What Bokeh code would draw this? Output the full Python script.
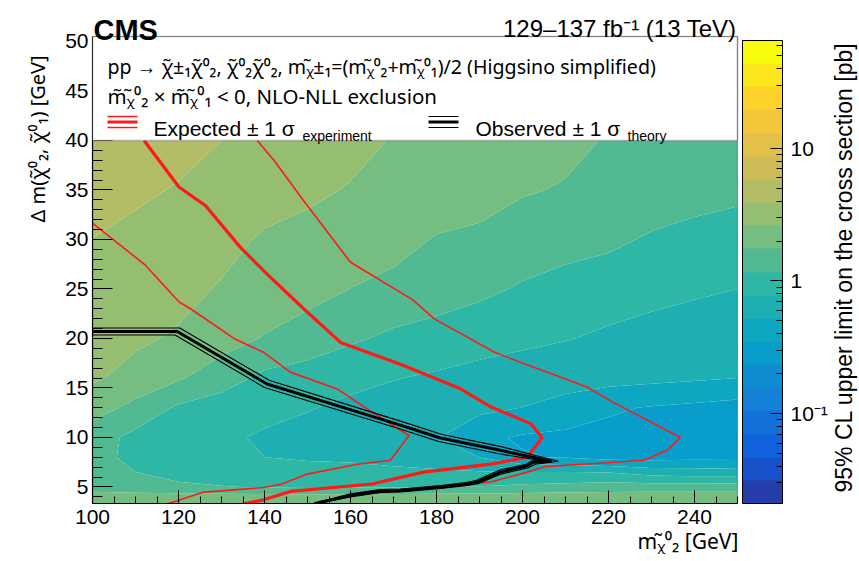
import numpy as np
from bokeh.plotting import figure
from bokeh.models import (Range1d, LogColorMapper, ColorBar, LogTicker, CustomJSTickFormatter,
                          SingleIntervalTicker, BoxAnnotation, Label, Arrow, Title)
from bokeh.embed import file_html
from bokeh.resources import INLINE

# ---------------- data ----------------
mass_x = [100, 110, 120, 130, 140, 150, 160, 170, 180, 190, 200, 210, 220, 230, 240, 250]
dm_y = [3, 4, 5, 6.5, 8, 10, 13, 16, 20, 25, 30, 35, 40]
# 95% CL upper limit on the cross section [pb], one row per dm_y value
limit_pb = [
    [2.54, 2.50, 2.45, 2.41, 2.37, 2.37, 2.37, 2.39, 2.41, 2.45, 2.50, 2.50, 2.54, 2.54, 2.54, 2.54],
    [2.17, 2.14, 2.11, 2.09, 2.06, 2.05, 2.05, 2.06, 2.09, 2.11, 2.14, 2.14, 2.15, 2.17, 2.17, 2.17],
    [1.43, 1.32, 1.27, 1.19, 1.14, 1.10, 1.12, 1.14, 1.17, 1.19, 1.27, 1.34, 1.41, 1.43, 1.43, 1.43],
    [1.37, 1.17, 1.00, 0.957, 0.917, 0.884, 0.867, 0.847, 0.826, 0.801, 0.79, 0.785, 0.77, 0.650, 0.624, 0.614],
    [1.43, 1.00, 0.917, 0.847, 0.782, 0.751, 0.739, 0.693, 0.639, 0.52, 0.36, 0.34, 0.30, 0.30, 0.31, 0.31],
    [1.43, 1.04, 0.917, 0.847, 0.739, 0.682, 0.639, 0.590, 0.536, 0.38, 0.335, 0.32, 0.31, 0.305, 0.30, 0.30],
    [2.05, 1.57, 1.10, 0.957, 0.884, 0.801, 0.722, 0.665, 0.624, 0.580, 0.52, 0.45, 0.37, 0.34, 0.32, 0.30],
    [2.76, 2.26, 1.82, 1.41, 1.06, 0.957, 0.867, 0.795, 0.739, 0.682, 0.650, 0.624, 0.605, 0.580, 0.553, 0.523],
    [3.19, 2.80, 2.47, 2.05, 1.70, 1.49, 1.24, 1.08, 1.00, 0.917, 0.847, 0.795, 0.739, 0.693, 0.665, 0.639],
    [3.60, 3.32, 3.00, 2.50, 2.24, 1.97, 1.74, 1.57, 1.41, 1.27, 1.12, 1.00, 0.917, 0.867, 0.818, 0.782],
    [3.87, 3.60, 3.32, 3.07, 2.45, 2.30, 2.15, 2.00, 1.70, 1.63, 1.46, 1.37, 1.28, 1.11, 1.00, 0.917],
    [4.97, 4.12, 3.81, 3.51, 3.24, 2.83, 2.54, 2.35, 2.17, 2.00, 1.80, 1.70, 1.61, 1.51, 1.41, 1.32],
    [5.50, 5.17, 4.40, 3.90, 3.54, 3.24, 2.95, 2.55, 2.39, 2.18, 2.04, 1.91, 1.70, 1.68, 1.59, 1.50],
]

# expected limit (thick red)
exp_x = [112.0, 120.1, 126.3, 134.4, 140.6, 149.1, 157.7, 171.6, 185.2, 192.6, 201.9, 204.6,
         201.1, 192.6, 177.0, 165.0, 146.0, 139.8, 135.2]
exp_y = [40.0, 35.3, 33.4, 29.2, 26.5, 23.0, 19.6, 17.4, 15.0, 13.1, 11.4, 10.0,
         8.0, 7.3, 6.5, 5.3, 4.55, 3.7, 3.3]
# expected -1 sigma_experiment (thin red, inner)
exp_m1_x = [99.0, 112.3, 120.1, 122.8, 132.9, 139.8, 146.0, 156.9, 163.1, 173.6, 169.3, 161.6,
            149.9, 144.1, 139.8, 125.5, 120.1, 117.4]
exp_m1_y = [32.0, 27.4, 23.7, 23.0, 20.0, 18.6, 16.6, 14.9, 13.1, 10.2, 7.7, 7.3,
            6.3, 5.3, 4.95, 4.45, 3.65, 3.3]
# expected +1 sigma_experiment (thin red, outer)
exp_p1_x = [138.3, 142.2, 149.1, 160.0, 174.5, 179.4, 193.5, 199.5, 215.0, 220.5, 236.7, 233.6,
            228.2, 219.7, 205.0, 201.1, 192.6, 187.1, 181.0, 171.6, 160.0, 151.5]
exp_p1_y = [40.0, 38.0, 33.9, 27.7, 23.9, 22.0, 18.6, 17.6, 15.1, 13.7, 10.0, 8.7,
            7.7, 7.45, 7.05, 6.5, 5.5, 5.3, 5.0, 4.65, 4.15, 3.3]
# observed limit (thick black)
obs_x = [99.0, 119.7, 140.6, 171.6, 180.9, 194.9, 206.8, 202.6, 201.1, 194.9, 189.5, 187.1,
         181.0, 171.6, 167.0, 160.0, 151.5]
obs_y = [20.7, 20.7, 15.4, 11.25, 9.95, 8.7, 7.6, 7.5, 7.15, 6.5, 5.5, 5.3,
         5.0, 4.65, 4.6, 4.15, 3.3]
# observed +1 sigma_theory (thin black)
obs_p1_x = [99.0, 120.3, 141.2, 172.0, 181.3, 195.3, 208.3, 203.0, 201.3, 195.0, 189.8, 187.3,
            181.0, 171.6, 167.0, 160.0, 151.0]
obs_p1_y = [21.05, 21.05, 15.75, 11.6, 10.3, 9.05, 7.6, 7.3, 6.95, 6.3, 5.35, 5.15,
            4.85, 4.5, 4.45, 4.0, 3.2]
# observed -1 sigma_theory (thin black)
obs_m1_x = [99.0, 119.2, 140.0, 171.2, 180.5, 194.5, 205.3, 202.3, 200.8, 194.6, 189.2, 186.9,
            181.0, 171.6, 167.0, 160.0, 152.0]
obs_m1_y = [20.35, 20.35, 15.05, 10.9, 9.6, 8.35, 7.6, 7.65, 7.3, 6.7, 5.65, 5.45,
            5.15, 4.8, 4.75, 4.3, 3.4]

x_tick_step = 20
y_tick_step = 5
z_low, z_high = 0.021, 65.0

# ---------------- style / layout ----------------
N_BANDS = 20
BIRD_T = [0.0, 0.125, 0.25, 0.375, 0.5, 0.625, 0.75, 0.875, 1.0]
BIRD_R = [0.2082, 0.0592, 0.0780, 0.0232, 0.1802, 0.5301, 0.8186, 0.9956, 0.9764]
BIRD_G = [0.1664, 0.3599, 0.5041, 0.6419, 0.7178, 0.7492, 0.7328, 0.7862, 0.9832]
BIRD_B = [0.5293, 0.8684, 0.8385, 0.7914, 0.6425, 0.4662, 0.3499, 0.1968, 0.0539]


def bird(t):
    r = np.interp(t, BIRD_T, BIRD_R)
    g = np.interp(t, BIRD_T, BIRD_G)
    b = np.interp(t, BIRD_T, BIRD_B)
    return "#%02x%02x%02x" % (int(round(r * 255)), int(round(g * 255)), int(round(b * 255)))


palette = [bird((i + 0.99) / N_BANDS) for i in range(N_BANDS)]

# plot box (x 100-250, dm 3.33-50.5) sits at pixels 92..737 x 36..503 of the 859x561 canvas;
# the Bokeh frame is extended to the top and right canvas edges so texts there are not clipped.
W, H = 859, 561
X0, X1 = 100.0, 250.0
Y0, Y1 = 3.33, 50.5
FL, FT, FW, FH = 92, 36, 645, 467
SX = (X1 - X0) / FW
SY = (Y1 - Y0) / FH


def px2x(px):
    return X0 + (px - FL) * SX


def py2y(py):
    return Y1 - (py - FT) * SY


FONT = "Liberation Sans"
GFONT = "Noto Sans"

p = figure(frame_width=W - FL, frame_height=FT + FH,
           x_range=Range1d(X0, px2x(W)), y_range=Range1d(Y0, py2y(0)),
           output_backend="svg", toolbar_location=None, title=None,
           min_border_left=FL, min_border_right=0, min_border_top=0,
           min_border_bottom=H - FT - FH, background_fill_color="white",
           border_fill_color="white")
p.grid.visible = False
p.outline_line_color = None

logz = np.log10(np.array(limit_pb))
levels = list(np.linspace(np.log10(z_low), np.log10(z_high), N_BANDS + 1))
p.contour(x=mass_x, y=dm_y, z=logz, levels=levels, fill_color=palette, line_color=None)

RED = "#ff1a1a"
p.line(exp_m1_x, exp_m1_y, line_color=RED, line_width=1.6)
p.line(exp_p1_x, exp_p1_y, line_color=RED, line_width=1.6)
p.line(exp_x, exp_y, line_color=RED, line_width=3.2)
p.line(obs_p1_x, obs_p1_y, line_color="black", line_width=1.1)
p.line(obs_m1_x, obs_m1_y, line_color="black", line_width=1.1)
p.line(obs_x, obs_y, line_color="black", line_width=3.0)

# axes
xa = p.xaxis[0]
xa.ticker = SingleIntervalTicker(interval=x_tick_step, num_minor_ticks=4)
xa.bounds = (X0, X1)
ya = p.yaxis[0]
ya.ticker = SingleIntervalTicker(interval=y_tick_step, num_minor_ticks=5)
ya.bounds = (Y0, Y1)
for ax in (xa, ya):
    ax.axis_line_color = "black"
    ax.axis_line_width = 1.2
    ax.major_tick_line_color = "black"
    ax.minor_tick_line_color = "black"
    ax.major_tick_out = 0
    ax.minor_tick_out = 0
    ax.major_label_text_font = FONT
    ax.major_label_text_font_size = "21px"
    ax.major_label_text_color = "black"
xa.major_tick_in = 13
xa.minor_tick_in = 7
xa.major_label_standoff = 6
ya.major_tick_in = 20
ya.minor_tick_in = 10
ya.major_label_standoff = 4

# legend box and plot box outline
p.add_layout(BoxAnnotation(left=X0, right=X1, bottom=40, top=Y1, fill_color="white",
                           fill_alpha=1.0, line_color="#222222", line_width=1.5,
                           level="annotation"))
p.add_layout(BoxAnnotation(left=X0, right=X1, bottom=Y0, top=Y1, fill_alpha=0.0,
                           line_color="black", line_width=1.2, level="overlay"))

# colour bar
mapper = LogColorMapper(palette=palette, low=z_low, high=z_high)
fmt = CustomJSTickFormatter(code="""
if (Math.abs(tick - 0.1) < 1e-6) { return '10\u207b\u00b9'; }
return Math.round(tick).toString();
""")
cbar = ColorBar(color_mapper=mapper, ticker=LogTicker(mantissas=[1], num_minor_ticks=10),
                formatter=fmt, width=40, height=463, location=(742 - FL, 0),
                margin=0, padding=0, label_standoff=8,
                major_tick_in=12, major_tick_out=0, minor_tick_in=6, minor_tick_out=0,
                major_tick_line_color="black", minor_tick_line_color="black",
                bar_line_color="black", bar_line_width=1, border_line_color=None,
                background_fill_color=None,
                major_label_text_font=FONT, major_label_text_font_size="21px",
                major_label_text_color="black")
p.add_layout(cbar, "center")


def lab(text, px, py, size, align="left", bold=False, angle=0.0, font=FONT,
        baseline="alphabetic"):
    p.add_layout(Label(x=px2x(px), y=py2y(py), text=text, text_font=font,
                       text_font_size="%.1fpx" % size, text_align=align,
                       text_baseline=baseline, text_color="black",
                       text_font_style="bold" if bold else "normal", angle=angle,
                       level="overlay"))


def seg(px0, px1, py, color, width):
    p.add_layout(Arrow(end=None, x_start=px2x(px0), y_start=py2y(py), x_end=px2x(px1),
                       y_end=py2y(py), line_color=color, line_width=width, level="overlay"))


CHI = "\u03c7\u0303"
SCHI = "\u1d6a\u0303"
line1 = ("pp \u2192 " + CHI + "\u00b1\u2081" + CHI + "\u2070\u2082, " + CHI + "\u2070\u2082" + CHI +
         "\u2070\u2082, m" + SCHI + "\u00b1\u2081=(m" + SCHI + "\u2070\u2082+m" + SCHI +
         "\u2070\u2081)/2 (Higgsino simplified)")
line2 = ("m\u0303" + SCHI + "\u2070\u2082 \u00d7 m\u0303" + SCHI + "\u2070\u2081 < 0, NLO-NLL exclusion")

lab("CMS", 93, 29, 29, bold=True)
lab("129\u2013137 fb\u207b\u00b9 (13 TeV)", 736, 28, 24, align="right")
lab(line1, 107, 66, 19.6, font=GFONT)
lab(line2, 107, 95, 20.5, font=GFONT)

seg(107, 137, 116, RED, 1.6)
seg(107, 137, 121.5, RED, 3.0)
seg(107, 137, 127, RED, 1.6)
lab("Expected \u00b1 1 \u03c3", 153, 128, 21)
lab("experiment", 302, 135, 14)

seg(428, 458, 116, "black", 1.2)
seg(428, 458, 121.5, "black", 3.0)
seg(428, 458, 127, "black", 1.2)
lab("Observed \u00b1 1 \u03c3", 475, 128, 21)
lab("theory", 627, 135, 14)

lab("95% CL upper limit on the cross section [pb]", 843, 267, 23, align="center",
    angle=np.pi / 2, baseline="middle")

# axis titles (side panels, so they are not clipped)
p.add_layout(Title(text="m" + SCHI + "\u2070\u2082 [GeV]", align="left", offset=637 - FL,
                   text_font=GFONT, text_font_size="21px", text_font_style="normal",
                   text_color="black", standoff=-4), "below")
p.add_layout(Title(text="\u0394 m(" + CHI + "\u2070\u2082, " + CHI + "\u2070\u2081) [GeV]",
                   align="left", offset=FT + FH - 222, text_font=GFONT,
                   text_font_size="20px", text_font_style="normal", text_color="black",
                   standoff=24), "left")

open("out.html", "w", encoding="utf-8").write(file_html(p, INLINE))
